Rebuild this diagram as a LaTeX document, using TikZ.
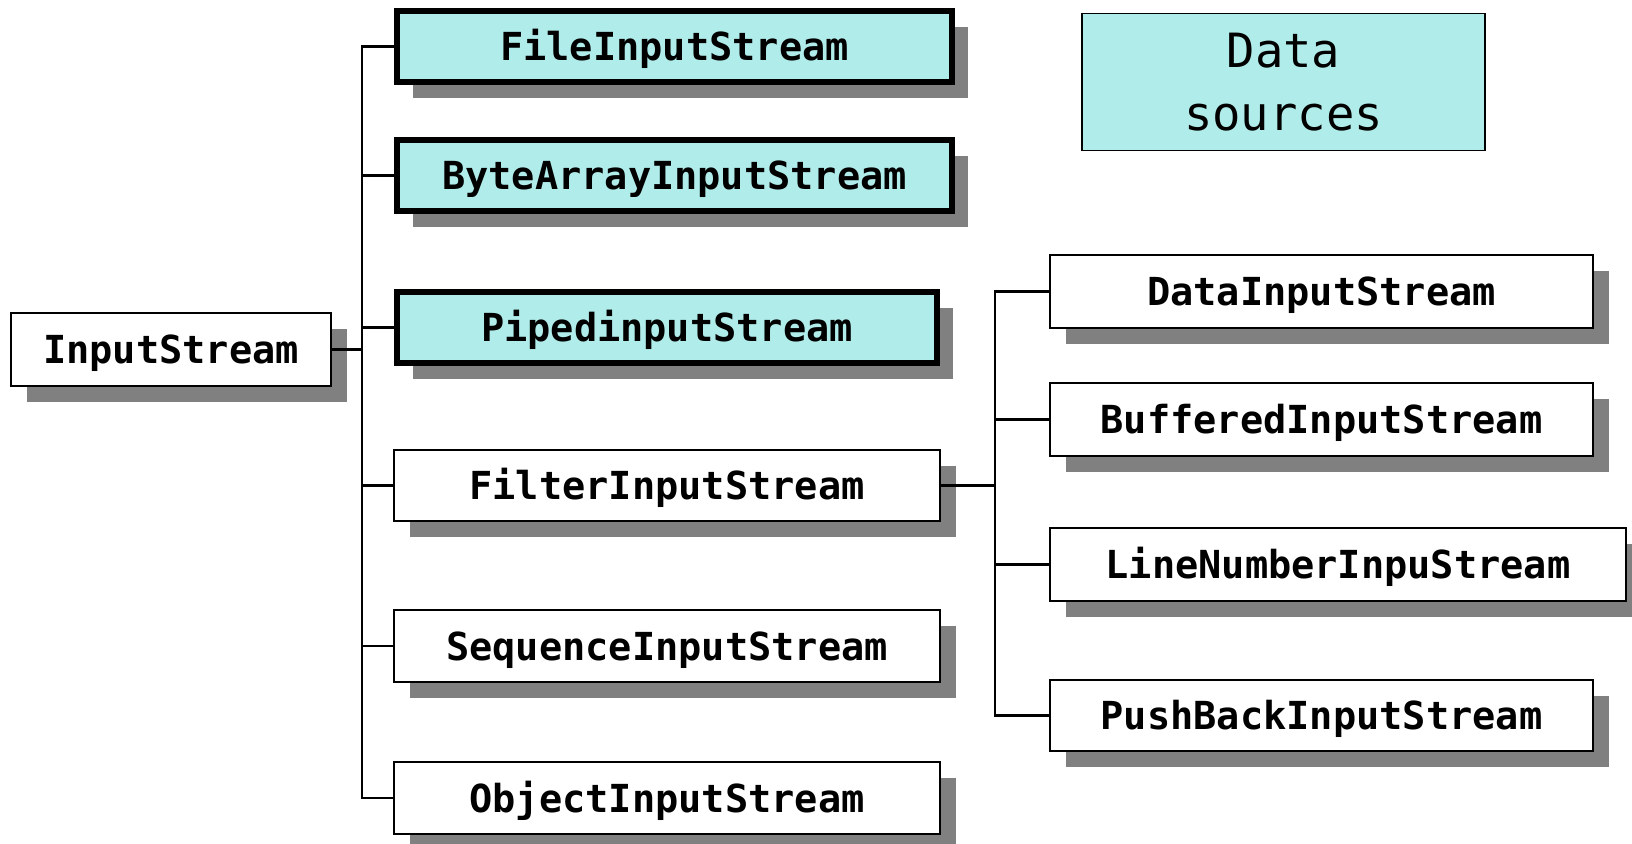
\documentclass[tikz,border=0pt]{standalone}
\usepackage{fontspec}
\setmonofont{DejaVu Sans Mono}
\usetikzlibrary{shadows}
\definecolor{cyanfill}{RGB}{176,236,234}
\definecolor{shadowgray}{RGB}{128,128,128}
\tikzset{
  box/.style={draw=black, line width=0.8pt, fill=white, inner sep=0pt,
    text height=16pt, text depth=2pt,
    font=\ttfamily\bfseries\fontsize{19.3}{23}\selectfont,
    drop shadow={shadow xshift=8pt, shadow yshift=-8pt, fill=shadowgray, opacity=1}},
  srcbox/.style={box, fill=cyanfill, line width=2.8pt},
  conn/.style={draw=black, line width=1.1pt},
}
\begin{document}
\begin{tikzpicture}[x=0.5pt,y=-0.5pt]
\useasboundingbox (0,0) rectangle (1632,844);
\coordinate (tr) at (362,0);
\coordinate (tr2) at (995,0);
% left column
\node[box, minimum width=160pt, minimum height=36.5pt] (in) at (171,349.5) {InputStream};
\node[srcbox, minimum width=277.5pt, minimum height=35.5pt] (file) at (674.5,46.5) {FileInputStream};
\node[srcbox, minimum width=277.5pt, minimum height=35.5pt] (byte) at (674.5,175.5) {ByteArrayInputStream};
\node[srcbox, minimum width=270pt, minimum height=35.5pt] (piped) at (667,327.5) {PipedinputStream};
\node[box, minimum width=273pt, minimum height=35.5pt] (filter) at (667,485.5) {FilterInputStream};
\node[box, minimum width=273pt, minimum height=36pt] (seq) at (667,646) {SequenceInputStream};
\node[box, minimum width=273pt, minimum height=36pt] (obj) at (667,798) {ObjectInputStream};
% right column
\node[box, minimum width=271.5pt, minimum height=36.5pt] (data) at (1321.5,291.5) {DataInputStream};
\node[box, minimum width=271.5pt, minimum height=36.5pt] (buf) at (1321.5,419.5) {BufferedInputStream};
\node[box, minimum width=288pt, minimum height=36.5pt] (line) at (1338,564.5) {LineNumberInpuStream};
\node[box, minimum width=271.5pt, minimum height=35.5pt] (push) at (1321.5,715.5) {PushBackInputStream};
% legend
\node[draw=black, line width=0.8pt, fill=cyanfill, minimum width=201.5pt, minimum height=68.5pt,
  align=center, font=\ttfamily\fontsize{23.6}{31.5}\selectfont] (ds) at (1283.5,82) {Data\\sources};
% connectors
\draw[conn] (in.east) -- (in.east -| tr);
\draw[conn] (file.west) -- (file.west -| tr) -- (obj.west -| tr) -- (obj.west);
\draw[conn] (byte.west) -- (byte.west -| tr);
\draw[conn] (piped.west) -- (piped.west -| tr);
\draw[conn] (filter.west) -- (filter.west -| tr);
\draw[conn] (seq.west) -- (seq.west -| tr);
\draw[conn] (filter.east) -- (filter.east -| tr2);
\draw[conn] (data.west) -- (data.west -| tr2) -- (push.west -| tr2) -- (push.west);
\draw[conn] (buf.west) -- (buf.west -| tr2);
\draw[conn] (line.west) -- (line.west -| tr2);
\end{tikzpicture}
\end{document}
